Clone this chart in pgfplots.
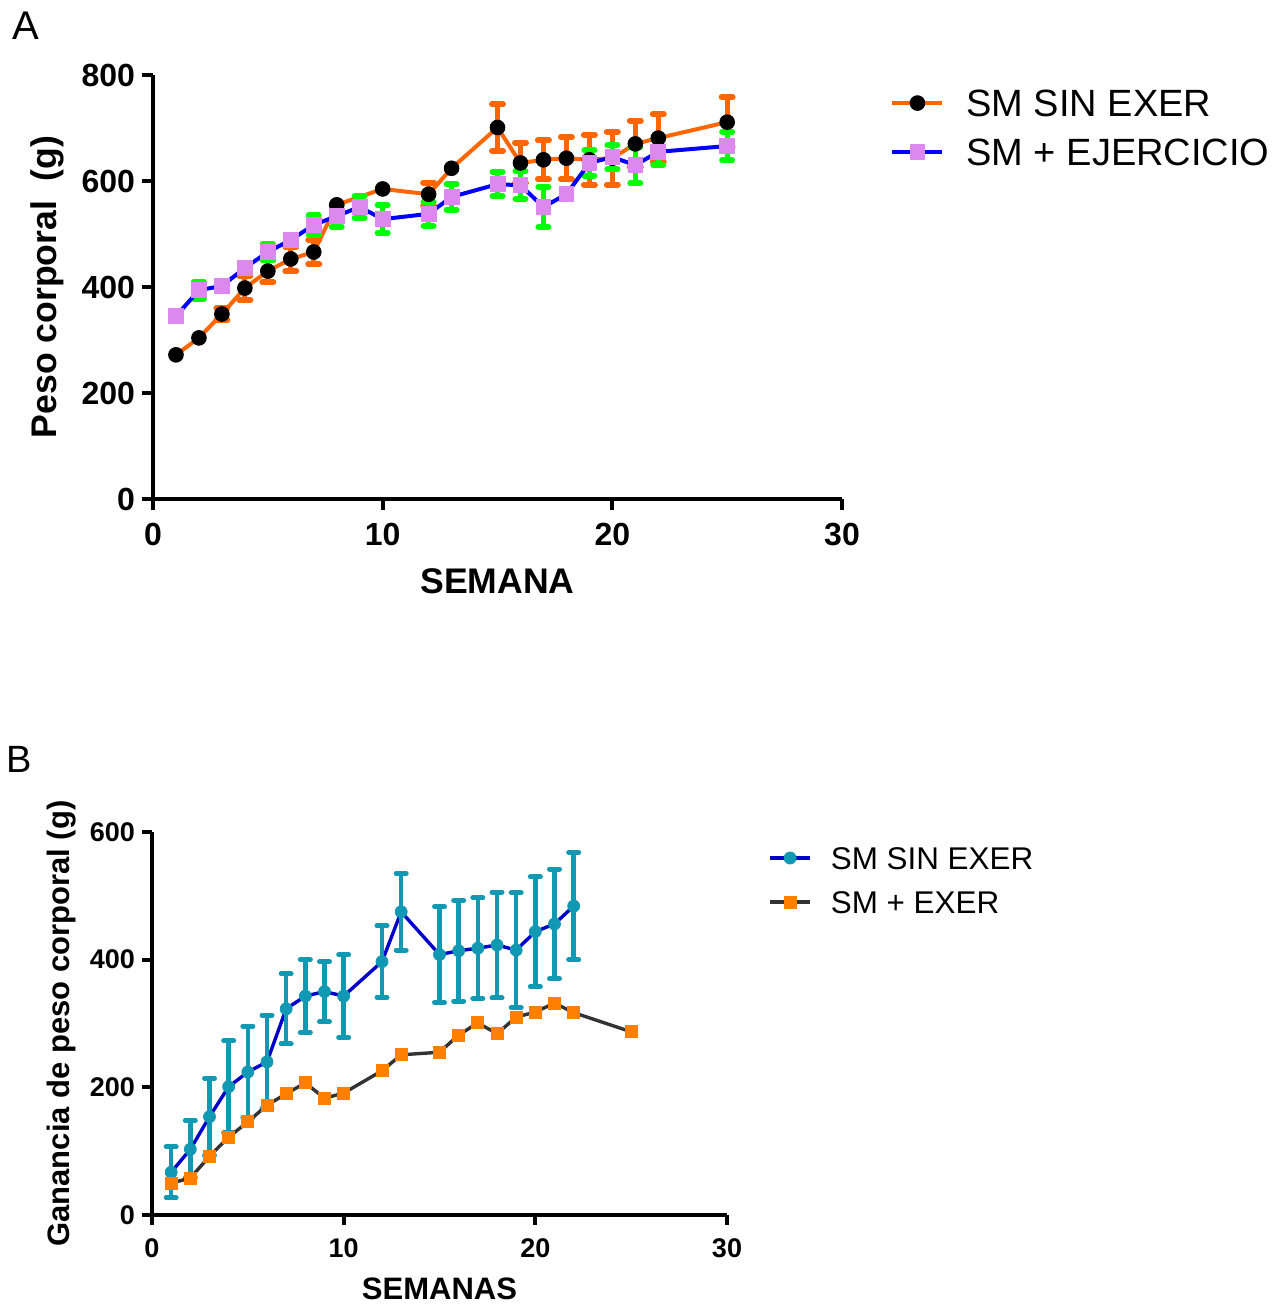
\documentclass[border=0pt]{standalone}
\usepackage{fontspec}
\setmainfont{Liberation Sans}
\usepackage{pgfplots}
\pgfplotsset{compat=1.18}
\definecolor{orA}{HTML}{FF6600}
\definecolor{blA}{HTML}{0000FF}
\definecolor{viA}{HTML}{DD88EE}
\definecolor{grA}{HTML}{00FF00}
\definecolor{teB}{HTML}{1199B3}
\definecolor{blB}{HTML}{0000C8}
\definecolor{gyB}{HTML}{333333}
\definecolor{orB}{HTML}{FF8000}
\pgfplotsset{
  gp/.style={
    scale only axis, axis x line=bottom, axis y line=left,
    axis line style={line width=2pt,-},
    tick align=outside, tick style={line width=2pt,black},
    /pgf/number format/assume math mode=true, clip=false,
    xmin=0, xmax=30, ymin=0, xtick={0,10,20,30},
    minor tick num=0, legend cell align=left,
  }
}
\pgfplotstableread{
x y
1 272
2 304
3 349
4 398
5 430
6 453
7 466
8 555
10 585
12 575
13 624
15 701
16 634
17 640
18 643
19 640
20 643
21 670
22 681
25 711
}\sinA
\pgfplotstableread{
x y e
3 349 11
4 398 23
5 430 21
6 453 23
7 466 23
12 575 22
15 701 44
16 634 38
17 640 37
18 643 40
19 640 47
20 643 50
21 670 44
22 681 45
25 711 47
}\sinAerr
\pgfplotstableread{
x y
1 345
2 394
3 402
4 436
5 466
6 489
7 517
8 534
9 551
10 528
12 538
13 570
15 594
16 592
17 551
18 575
19 634
20 645
21 630
22 655
25 666
}\ejeA
\pgfplotstableread{
x y e
2 394 16
5 466 16
7 517 18
8 534 20
9 551 21
10 528 26
12 538 23
13 570 24
15 594 23
16 592 26
17 551 38
19 634 24
20 645 23
21 630 34
22 655 25
25 666 27
}\ejeAerr
\pgfplotstableread{
x y e
1 67 40
2 103 45
3 154 60
4 201 72
5 224 72
6 240 73
7 323 55
8 343 57
9 350 47
10 343 65
12 397 56
13 475 60
15 408 75
16 414 79
17 418 79
18 423 83
19 415 90
20 444 86
21 456 86
22 484 84
}\sinB
\pgfplotstableread{
x y
1 50
2 58
3 92
4 122
5 146
6 172
7 190
8 207
9 183
10 191
12 226
13 251
15 255
16 282
17 301
18 284
19 310
20 318
21 332
22 317
25 287
}\exeB
\begin{document}
\begin{tikzpicture}
\path[use as bounding box] (0pt,0pt) rectangle (641.5pt,-652pt);
\node[anchor=base west, inner sep=0pt, font=\fontsize{20}{24}\selectfont] at (6pt,-20pt) {A};
\node[anchor=base west, inner sep=0pt, font=\fontsize{19}{23}\selectfont] at (3pt,-386pt) {B};
% ---------------- Panel A
\begin{axis}[gp,
  at={(76.5pt,-249.5pt)}, anchor=south west,
  width=344.5pt, height=212pt,
  ymax=800, ytick={0,200,400,600,800},
  major tick length=5.5pt,
  tick label style={font=\fontsize{16}{19}\selectfont\bfseries},
  xticklabel style={yshift=-3pt},
  xlabel={SEMANA}, ylabel={Peso corporal\ \ (g)},
  xlabel style={at={(axis description cs:0.5,-0.2217)}, anchor=base, font=\fontsize{17.8}{21}\selectfont\bfseries},
  ylabel style={at={(axis description cs:-0.1538,0.5)}, anchor=center, font=\fontsize{17.8}{21}\selectfont\bfseries},
  legend image code/.code={\draw[mark repeat=2,mark phase=2,#1] plot coordinates {(0pt,0pt)(12.5pt,0pt)(25pt,0pt)}; \path (36pt,0pt);},
  legend style={draw=none, fill=none, at={(axis description cs:1.0697,0.876)}, anchor=west,
    inner sep=0pt, row sep=7.5pt, font=\fontsize{19}{22}\selectfont,
    nodes={inner sep=0pt, text height=15pt, text depth=2pt}},
]
\addplot[draw=none, mark=none, forget plot,
  error bars/.cd, y dir=both, y explicit, error mark=|,
  error bar style={draw=orA, line width=2.6pt},
  error mark options={draw=orA, mark size=2.75pt, line width=3pt, line cap=round}]
  table[x=x,y=y,y error=e]{\sinAerr};
\addplot[color=orA, line width=2pt, mark=*, mark size=3.7pt,
  mark options={solid, fill=black, draw=black, line width=0.4pt}]
  table[x=x,y=y]{\sinA};
\addlegendentry{SM SIN EXER}
\addplot[draw=none, mark=none, forget plot,
  error bars/.cd, y dir=both, y explicit, error mark=|,
  error bar style={draw=grA, line width=2.6pt},
  error mark options={draw=grA, mark size=2.5pt, line width=3pt, line cap=round}]
  table[x=x,y=y,y error=e]{\ejeAerr};
\addplot[color=blA, line width=2pt, mark=square*, mark size=3.7pt,
  mark options={solid, fill=viA, draw=viA, line width=0.4pt}]
  table[x=x,y=y]{\ejeA};
\addlegendentry{SM + EJERCICIO}
\end{axis}
% ---------------- Panel B
\begin{axis}[gp,
  at={(76pt,-607.5pt)}, anchor=south west,
  width=287.5pt, height=191.5pt,
  ymax=600, ytick={0,200,400,600},
  major tick length=5pt,
  tick label style={font=\fontsize{13.5}{16}\selectfont\bfseries},
  xticklabel style={yshift=-3.5pt},
  xlabel={SEMANAS}, ylabel={Ganancia de peso corporal (g)},
  xlabel style={at={(axis description cs:0.5,-0.2193)}, anchor=base, font=\fontsize{15.5}{18}\selectfont\bfseries},
  ylabel style={at={(axis description cs:-0.1565,0.5)}, anchor=center, font=\fontsize{15.5}{18}\selectfont\bfseries},
  legend image code/.code={\draw[mark repeat=2,mark phase=2,#1] plot coordinates {(0pt,0pt)(10pt,0pt)(20pt,0pt)}; \path (29.5pt,0pt);},
  legend style={draw=none, fill=none, at={(axis description cs:1.0713,0.8747)}, anchor=west,
    inner sep=0pt, row sep=8pt, font=\fontsize{15.7}{18}\selectfont,
    nodes={inner sep=0pt, text height=12.5pt, text depth=1.5pt}},
]
\addplot[color=blB, line width=1.7pt, mark=*, mark size=3pt,
  mark options={solid, fill=teB, draw=teB, line width=0.4pt}]
  table[x=x,y=y]{\sinB};
\addlegendentry{SM SIN EXER}
\addplot[draw=none, mark=none, forget plot,
  error bars/.cd, y dir=both, y explicit, error mark=|,
  error bar style={draw=teB, line width=2.2pt},
  error mark options={draw=teB, mark size=2.5pt, line width=2.5pt, line cap=round}]
  table[x=x,y=y,y error=e]{\sinB};
\addplot[color=gyB, line width=1.7pt, mark=square*, mark size=3pt,
  mark options={solid, fill=orB, draw=orB, line width=0.4pt}]
  table[x=x,y=y]{\exeB};
\addlegendentry{SM + EXER}
\end{axis}
\end{tikzpicture}
\end{document}
